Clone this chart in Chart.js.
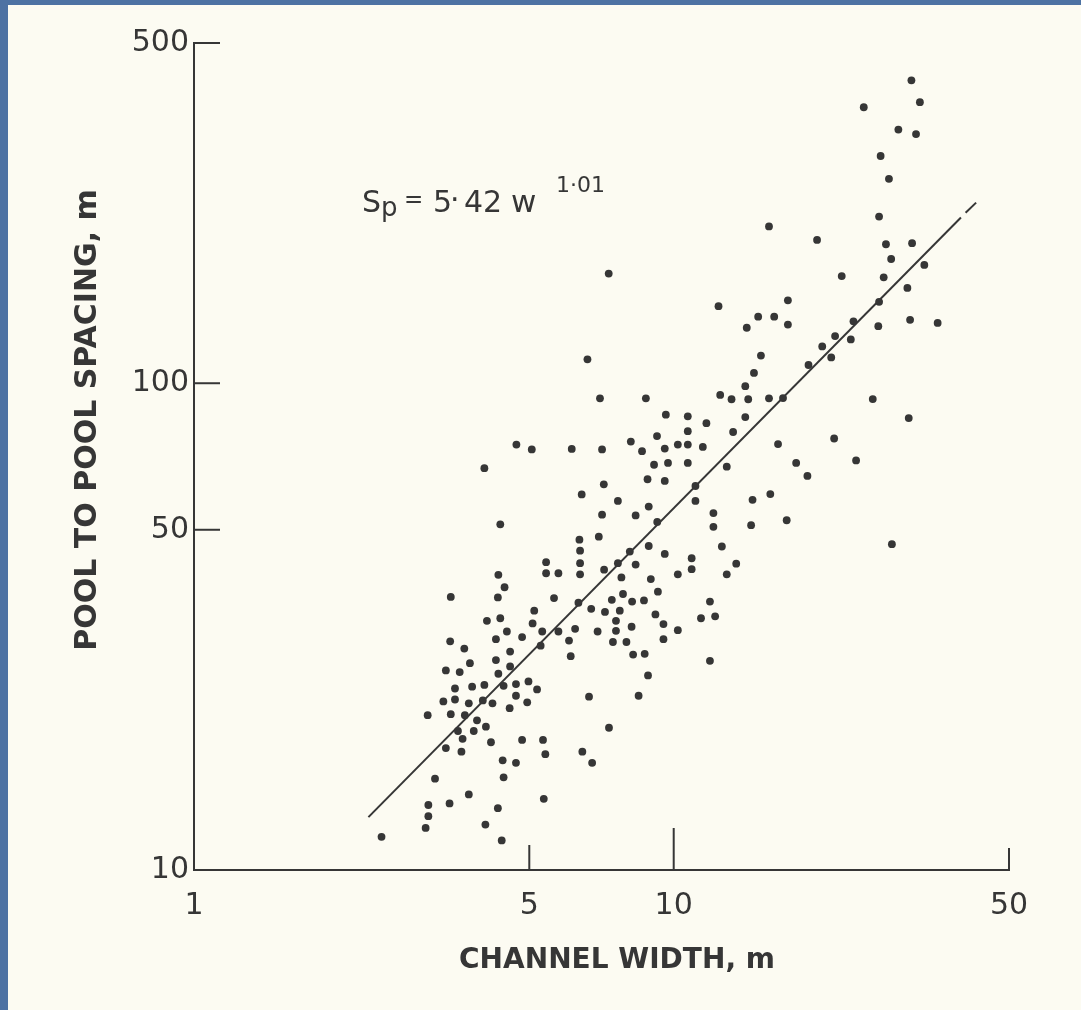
<!DOCTYPE html>
<html>
<head>
<meta charset="utf-8">
<script src="https://cdn.jsdelivr.net/npm/chart.js@4/dist/chart.umd.min.js"></script>
<style>
html, body { margin: 0; padding: 0; background: #fcfbf2; overflow: hidden; }
#wrap { position: relative; width: 1081px; height: 1010px; }
#chart { position: absolute; left: 0; top: 0; }
.edge { position: absolute; background: #4d72a3; }
</style>
</head>
<body>
<div id="wrap">
  <canvas id="chart" width="1081" height="1010"></canvas>
  <div class="edge" style="left:0;top:0;width:8px;height:1010px"></div>
  <div class="edge" style="left:0;top:0;width:1081px;height:5px"></div>
</div>
<script>
// channel width (m) and pool-to-pool spacing (m)
const channelWidth = [
  31.3, 32.6, 24.9, 29.4, 32.0, 27.0, 28.1, 15.8, 26.8, 19.9, 27.7, 31.4, 28.4, 33.3, 22.4, 27.4,
  30.7, 17.3, 26.8, 12.4, 15.0, 16.2, 14.2, 17.3, 23.7, 26.7, 31.1, 35.5, 21.7, 23.4, 15.2, 20.4,
  21.3, 19.1, 14.7, 14.1, 12.5, 13.2, 14.3, 15.8, 16.9, 26.0, 8.75, 7.32, 6.61, 7.02,
  30.9, 11.7, 14.1, 13.3, 11.5, 16.5, 21.6, 24.0, 18.0, 12.9, 19.0, 15.9, 14.6, 12.1, 12.1, 14.5,
  17.2, 28.5, 12.6, 13.5, 12.9, 11.9, 12.2, 11.9, 11.4,
  9.63, 10.7, 10.7, 9.23, 8.14, 8.59, 9.58, 10.2, 10.7, 4.70, 5.06, 6.13, 7.09, 9.10, 9.73, 10.7,
  4.03, 8.82, 9.58, 7.15, 11.1, 11.1, 6.43, 7.65, 8.87, 7.09, 8.33, 4.35, 9.24, 6.98, 6.36, 8.87,
  6.38, 8.10, 9.58, 10.9, 5.42, 6.38, 7.65, 8.33, 7.16, 10.9, 10.2, 5.42, 5.75, 6.38, 7.78, 4.31,
  4.44, 8.96, 4.30, 3.43, 5.63, 7.84, 9.27, 6.33, 7.43, 8.19, 8.67, 6.73, 7.19, 7.72, 5.12, 9.16,
  4.08, 4.35, 5.08, 4.49, 5.32, 5.75, 6.23, 6.94, 7.58, 7.58, 8.17, 9.52, 10.2, 4.83, 4.26, 6.05,
  7.47, 7.97, 9.52, 5.28, 3.42, 3.66, 6.10, 8.23, 8.70, 3.76, 4.26, 4.56, 4.56, 3.35, 3.58, 4.31,
  8.84, 3.50, 3.80, 4.03, 4.42, 4.69, 4.98, 5.19, 3.31, 3.50, 3.74, 4.00, 4.19, 4.69, 4.95, 4.55,
  6.66, 8.45, 3.07, 3.43, 3.67, 3.89, 4.06, 3.83, 3.55, 7.33, 3.63, 4.16, 4.83, 5.34, 3.35, 3.61,
  5.40, 6.45, 4.40, 4.69, 6.76, 3.18, 4.42, 3.74, 5.36, 3.08, 3.41, 4.30, 3.08, 4.05, 3.04, 2.46,
  4.38
];
const poolSpacing = [
  419, 378, 369, 332, 325, 293, 263, 210, 220, 197, 193, 194, 180, 175, 166, 165,
  157, 148, 147, 144, 137, 137, 130, 132, 134, 131, 135, 133, 125, 123, 114, 119,
  113, 109, 105, 98.6, 94.6, 92.7, 92.7, 93.1, 93.2, 92.8, 93.1, 168, 112, 93.1,
  84.8, 82.8, 85.2, 79.4, 74.0, 75.0, 77.0, 69.4, 68.6, 67.4, 64.5, 59.2, 57.6, 54.1, 50.7, 51.1,
  52.3, 46.7, 46.2, 42.6, 40.5, 35.6, 33.2, 26.9, 32.9,
  86.2, 85.5, 79.7, 77.9, 75.9, 72.5, 73.4, 74.8, 74.8, 74.8, 73.1, 73.3, 73.1, 68.0, 68.6, 68.6,
  66.9, 63.5, 63.0, 62.0, 61.5, 57.3, 59.1, 57.3, 55.8, 53.7, 53.5, 51.3, 51.9, 48.4, 47.7, 46.3,
  45.3, 45.1, 44.6, 43.7, 42.9, 42.7, 42.7, 42.4, 41.4, 41.5, 40.5, 40.7, 40.7, 40.5, 39.9, 40.4,
  38.1, 39.6, 36.3, 36.4, 36.2, 36.9, 37.3, 35.4, 35.9, 35.6, 35.8, 34.4, 33.9, 34.1, 34.1, 33.5,
  32.5, 32.9, 32.1, 30.9, 30.9, 30.9, 31.3, 30.9, 32.5, 31.0, 31.6, 32.0, 31.1, 30.1, 29.8, 29.6,
  29.4, 29.4, 29.8, 28.9, 29.5, 28.5, 27.5, 27.7, 27.8, 26.6, 27.0, 28.1, 26.2, 25.7, 25.5, 25.3,
  25.1, 23.6, 23.8, 24.0, 23.9, 24.1, 24.4, 23.5, 22.2, 22.4, 22.0, 22.3, 22.0, 22.8, 22.1, 21.5,
  22.7, 22.8, 20.8, 20.9, 20.8, 20.3, 19.7, 19.3, 19.3, 19.6, 18.6, 18.3, 18.5, 18.5, 17.8, 17.5,
  17.3, 17.5, 16.8, 16.6, 16.6, 15.4, 15.5, 14.3, 14.0, 13.6, 13.7, 13.4, 12.9, 12.4, 12.2, 11.7,
  11.5
];

// fitted line Sp = 5.42 w^1.01 as drawn: long solid part, short dash at the end
const fitWidth = [2.31, 39.7];
const fitSpacing = [12.84, 219];
const dashWidth = [40.6, 42.7];
const dashSpacing = [224, 235];

const xTicks = [1, 5, 10, 50];
const yTicks = [10, 50, 100, 500];
const xTickLen = [0, 25, 42, 22];
const yTickLen = [0, 26, 26, 26];

const ink = '#363636';

const pairs = (xs, ys) => xs.map((v, i) => ({ x: v, y: ys[i] }));

// inward tick marks on both axes
const tickMarks = {
  id: 'tickMarks',
  afterDraw(chart) {
    const { ctx, scales: { x, y } } = chart;
    ctx.save();
    ctx.strokeStyle = ink;
    ctx.lineWidth = 2;
    xTicks.forEach((v, i) => {
      if (!xTickLen[i]) return;
      const px = x.getPixelForValue(v);
      ctx.beginPath();
      ctx.moveTo(px, x.top);
      ctx.lineTo(px, x.top - xTickLen[i]);
      ctx.stroke();
    });
    yTicks.forEach((v, i) => {
      if (!yTickLen[i]) return;
      const py = y.getPixelForValue(v);
      ctx.beginPath();
      ctx.moveTo(y.right, py);
      ctx.lineTo(y.right + yTickLen[i], py);
      ctx.stroke();
    });
    ctx.restore();
  }
};

// axis titles and the regression equation
const labels = {
  id: 'labels',
  afterDraw(chart) {
    const ctx = chart.ctx;
    ctx.save();
    ctx.fillStyle = ink;
    ctx.textBaseline = 'alphabetic';

    ctx.font = 'bold 28px "DejaVu Sans"';
    ctx.textAlign = 'center';
    ctx.fillText('CHANNEL WIDTH, m', 617, 968);

    ctx.save();
    ctx.translate(96, 420);
    ctx.rotate(-Math.PI / 2);
    ctx.font = 'bold 30px "DejaVu Sans"';
    ctx.fillText('POOL TO POOL SPACING, m', 0, 0);
    ctx.restore();

    ctx.textAlign = 'left';
    const eq = [
      ['S', 362, 212, 30],
      ['p', 381, 216, 26],
      ['=', 404, 207, 23],
      ['5', 433, 212, 30],
      ['\u00b7', 450, 210, 30],
      ['42', 464, 212, 30],
      ['w', 511, 212, 31],
      ['1\u00b701', 556, 192, 22]
    ];
    eq.forEach(([t, x, y, s]) => {
      ctx.font = s + 'px "DejaVu Sans"';
      ctx.fillText(t, x, y);
    });
    ctx.restore();
  }
};

new Chart(document.getElementById('chart'), {
  type: 'scatter',
  data: {
    datasets: [
      {
        data: pairs(channelWidth, poolSpacing),
        backgroundColor: ink,
        borderWidth: 0,
        pointRadius: 3.9
      },
      {
        data: pairs(fitWidth, fitSpacing),
        showLine: true,
        borderColor: ink,
        borderWidth: 2,
        pointRadius: 0
      },
      {
        data: pairs(dashWidth, dashSpacing),
        showLine: true,
        borderColor: ink,
        borderWidth: 2,
        pointRadius: 0
      }
    ]
  },
  options: {
    responsive: false,
    animation: false,
    layout: { autoPadding: false, padding: { left: 0, right: 72, top: 43, bottom: 0 } },
    plugins: {
      legend: { display: false },
      tooltip: { enabled: false }
    },
    scales: {
      x: {
        type: 'logarithmic',
        min: 1,
        max: 50,
        afterBuildTicks: s => { s.ticks = xTicks.map(v => ({ value: v })); },
        afterFit: s => { s.height = 140; },
        grid: { display: false, drawTicks: false },
        border: { display: true, color: ink, width: 2 },
        ticks: {
          color: ink,
          padding: 18,
          autoSkip: false,
          maxRotation: 0,
          font: { family: 'DejaVu Sans', size: 30 },
          callback: v => String(v)
        }
      },
      y: {
        type: 'logarithmic',
        min: 10,
        max: 500,
        afterBuildTicks: s => { s.ticks = yTicks.map(v => ({ value: v })); },
        afterFit: s => { s.width = 194; },
        grid: { display: false, drawTicks: false },
        border: { display: true, color: ink, width: 2 },
        ticks: {
          color: ink,
          padding: 5,
          autoSkip: false,
          font: { family: 'DejaVu Sans', size: 30 },
          callback: v => String(v)
        }
      }
    }
  },
  plugins: [tickMarks, labels]
});
</script>
</body>
</html>
